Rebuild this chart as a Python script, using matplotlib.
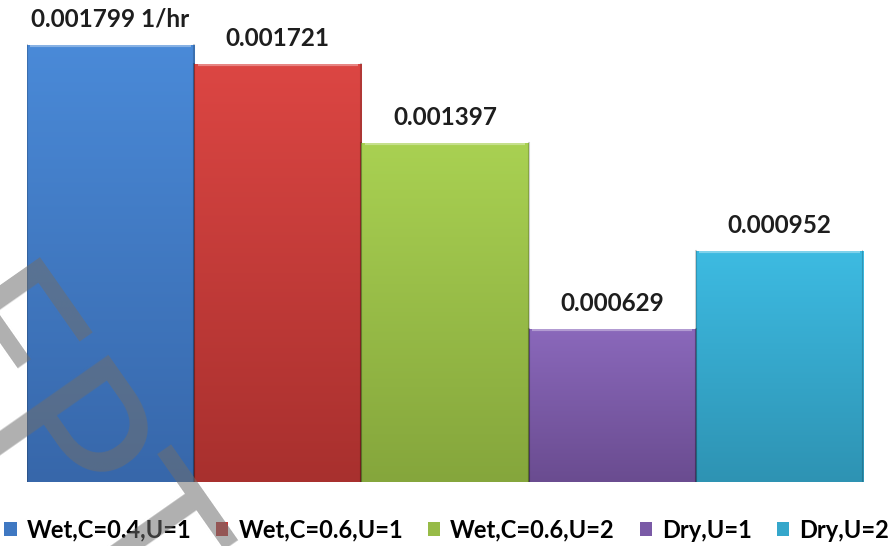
import numpy as np
import matplotlib
matplotlib.use("Agg")
import matplotlib.pyplot as plt
from matplotlib.colors import LinearSegmentedColormap
from matplotlib.patches import Patch

# ── Data ──────────────────────────────────────────────────────────────────────
CASES = ["Wet,C=0.4,U=1", "Wet,C=0.6,U=1", "Wet,C=0.6,U=2", "Dry,U=1", "Dry,U=2"]
RATES = [0.001799, 0.001721, 0.001397, 0.000629, 0.000952]   # 1/hr
LABELS = ["0.001799 1/hr", "0.001721", "0.001397", "0.000629", "0.000952"]

# top / bottom shades for each bar's vertical gradient
TOP_COLORS = ["#4a8ad8", "#dc4643", "#a9d152", "#8a68bb", "#3dbbe2"]
BOT_COLORS = ["#3767aa", "#a8302e", "#85a63c", "#6a4c90", "#2e93b3"]
MID_COLORS = ["#3f78c2", "#c23b39", "#97bb47", "#7a5aa6", "#35a7cb"]
# ──────────────────────────────────────────────────────────────────────────────

plt.rcParams["font.family"] = ["Lato", "DejaVu Sans"]

fig = plt.figure(figsize=(8.93, 5.46), dpi=100)
ax = fig.add_axes([27 / 893, 1 - 482 / 546, (863 - 27) / 893, 482 / 546])

x = np.arange(len(RATES))
bars = ax.bar(x, RATES, width=1.0, color=MID_COLORS, linewidth=0)

# vertical gradient inside every bar, clipped to the bar outline
for bar, top, bot in zip(bars, TOP_COLORS, BOT_COLORS):
    cmap = LinearSegmentedColormap.from_list("g", [bot, top])
    x0, y0 = bar.get_x(), bar.get_y()
    w, h = bar.get_width(), bar.get_height()
    grad = np.linspace(0, 1, 256).reshape(-1, 1)
    im = ax.imshow(grad, cmap=cmap, origin="lower", aspect="auto",
                   extent=(x0, x0 + w, y0, y0 + h), zorder=2)
    im.set_clip_path(bar)
    # soft bevel along the top edge and darker side edges
    ax.plot([x0 + 0.02, x0 + w - 0.02], [h, h], color="white", alpha=0.35,
            lw=3, solid_capstyle="butt", zorder=3)
    ax.plot([x0, x0], [0, h], color="black", alpha=0.18, lw=1.5, zorder=3)
    ax.plot([x0 + w, x0 + w], [0, h], color="black", alpha=0.18, lw=1.5, zorder=3)

ax.set_xlim(-0.5, len(RATES) - 0.5)
ax.set_ylim(0, 0.001984)

for xi, val, lab in zip(x, RATES, LABELS):
    ax.annotate(lab, (xi, val), xytext=(0, 13), textcoords="offset points",
                ha="center", va="baseline", fontsize=17.5, fontweight="bold",
                color="#1e1e1e")

ax.axis("off")

handles = [Patch(facecolor=c, edgecolor="none") for c in MID_COLORS]
fig.legend(handles, CASES, loc="center", bbox_to_anchor=(0.5, 1 - 530 / 546),
           ncol=5, frameon=False, handlelength=0.52, handleheight=0.52,
           handletextpad=0.42, columnspacing=1.05, borderpad=0, borderaxespad=0,
           prop={"weight": "bold", "size": 17})

# faint diagonal stamp across the lower left
fig.text(-102 / 893, 1 - 342 / 546, "EPT", rotation=-55, rotation_mode="anchor",
         ha="left", va="baseline", fontsize=150, family="Lato",
         fontweight="normal", color="#6e6e6e", alpha=0.55, zorder=10)

fig.savefig("out.png", dpi=100)
